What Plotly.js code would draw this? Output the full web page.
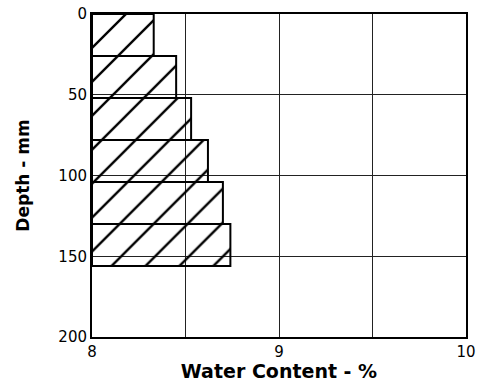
<!DOCTYPE html>
<html><head><meta charset="utf-8">
<script src="https://cdn.plot.ly/plotly-3.0.1.min.js"></script>
<style>body{margin:0;background:#fff}#c{width:488px;height:382px}</style>
</head><body><div id="c"></div>
<script>
const depthTop = [0, 26, 52, 78, 104, 130];
const depthBottom = [26, 52, 78, 104, 130, 156];
const waterContent = [8.33, 8.45, 8.53, 8.62, 8.70, 8.74];
const xTickVals = [8, 8.5, 9, 9.5, 10];
const xTickText = ['8', '', '9', '', '10'];
const yTickVals = [0, 50, 100, 150, 200];

const base = 8;
const mids = depthTop.map((t, i) => (t + depthBottom[i]) / 2);
const widths = depthTop.map((t, i) => depthBottom[i] - t);

const trace = {
  type: 'bar', orientation: 'h',
  y: mids, x: waterContent.map(v => v - base), base: base, width: widths,
  marker: {
    color: 'rgba(0,0,0,0)',
    line: {color: '#000', width: 2},
    pattern: {shape: '/', fgcolor: '#000', bgcolor: 'rgba(0,0,0,0)', size: 24, solidity: 0.1}
  },
  hoverinfo: 'skip'
};

const fam = 'DejaVu Sans, Verdana, sans-serif';
const font = {family: fam, color: '#000', size: 15};
const layout = {
  width: 488, height: 382,
  margin: {l: 92, r: 22, t: 14, b: 45},
  paper_bgcolor: '#fff', plot_bgcolor: '#fff',
  showlegend: false, font: font,
  xaxis: {
    range: [8, 10], tickvals: xTickVals, ticktext: xTickText,
    showgrid: true, gridcolor: '#222', gridwidth: 1,
    showline: true, linecolor: '#000', linewidth: 2, mirror: true,
    ticks: '', ticklen: 0, zeroline: false, tickfont: font,
    title: {text: '<b>Water Content - %</b>', font: {family: fam, size: 19, color: '#000'}, standoff: 1}
  },
  yaxis: {
    range: [200, 0], tickvals: yTickVals,
    showgrid: true, gridcolor: '#222', gridwidth: 1,
    showline: true, linecolor: '#000', linewidth: 2, mirror: true,
    ticks: '', zeroline: false, tickfont: font,
    title: {text: '<b>Depth - mm</b>', font: {family: fam, size: 17, color: '#000'}, standoff: 24}
  }
};
Plotly.newPlot('c', [trace], layout, {displayModeBar: false, staticPlot: true});
</script></body></html>
